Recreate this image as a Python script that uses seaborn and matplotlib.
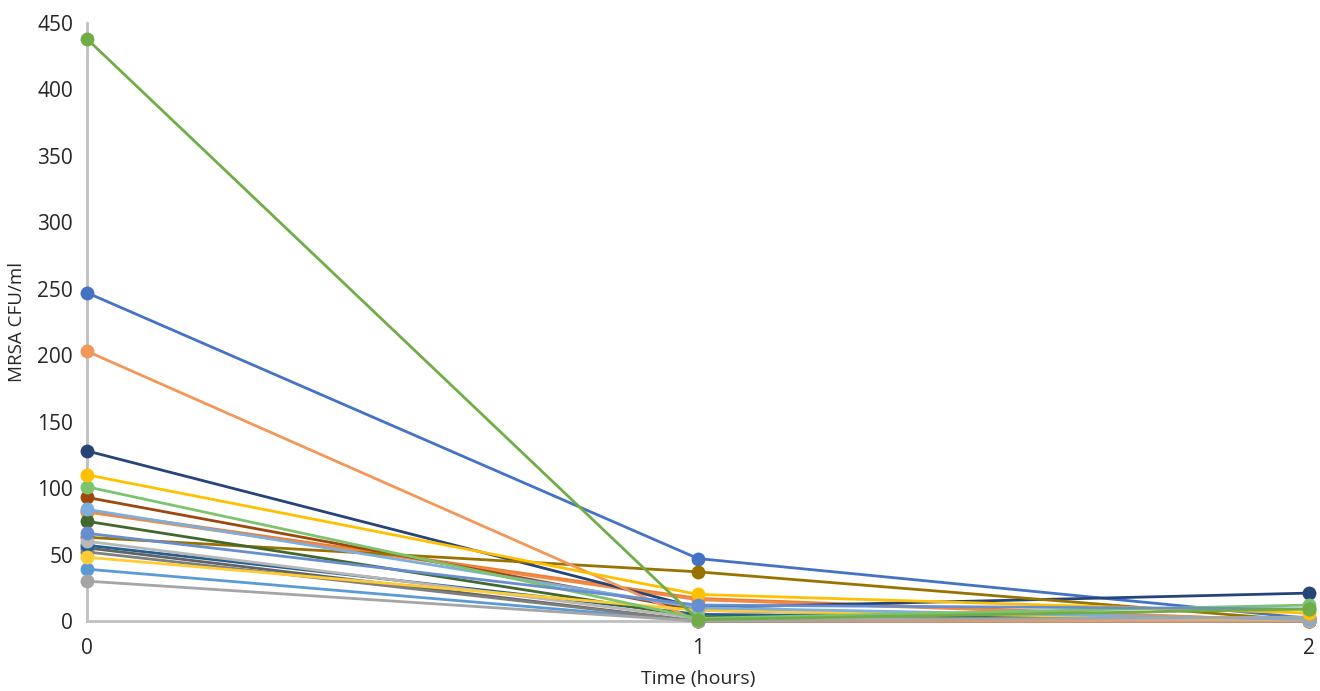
import pandas as pd
import numpy as np
import matplotlib
matplotlib.use("Agg")
import matplotlib.pyplot as plt
import seaborn as sns

# ── Data ──────────────────────────────────────────────────────────────────────
times = [0, 1, 2]

samples = ["S01", "S02", "S03", "S04", "S05", "S06", "S07", "S08", "S09", "S10",
           "S11", "S12", "S13", "S14", "S15", "S16", "S17", "S18", "S19", "S20"]

cfu_h0 = [247, 83, 82, 39, 55, 128, 93, 52, 63, 57, 75, 203, 60, 48, 84, 101, 30, 110, 66, 438]
cfu_h1 = [47, 17, 16, 0, 0, 10, 8, 0, 37, 5, 3, 0, 2, 8, 10, 2, 0, 20, 12, 1]
cfu_h2 = [2, 0, 0, 1, 0, 21, 1, 0, 0, 1, 1, 0, 1, 1, 1, 12, 3, 6, 9, 9]

colors = ["#4472C4", "#ED7D31", "#F08A45", "#5B9BD5", "#636363", "#264478",
          "#9E480E", "#7F7F7F", "#997300", "#255E91", "#43682B", "#F1975A",
          "#B7B7B7", "#FFCD33", "#7CAFDD", "#7CC46E", "#A5A5A5", "#FFC000",
          "#698ED0", "#70AD47"]

# ── Long table ────────────────────────────────────────────────────────────────
rows = []
for s, a, b, c in zip(samples, cfu_h0, cfu_h1, cfu_h2):
    for t, v in zip(times, [a, b, c]):
        rows.append({"sample": s, "time": t, "cfu": v})
df = pd.DataFrame(rows)

# ── Plot ──────────────────────────────────────────────────────────────────────
sns.set_style("white")
plt.rcParams["font.family"] = ["Open Sans", "DejaVu Sans"]

fig = plt.figure(figsize=(13.2, 6.91), dpi=100)
ax = fig.add_axes([0.0659, 0.1013, 0.9258, 0.8654])

sns.lineplot(data=df, x="time", y="cfu", hue="sample",
             palette=colors, marker="o", markersize=10, markeredgewidth=0,
             linewidth=2.0, legend=False, sort=False, clip_on=False, ax=ax)

ax.set_xlim(0, 2)
ax.set_ylim(0, 450)
ax.set_xticks(times)
ax.set_yticks(np.arange(0, 451, 50))
ax.tick_params(axis="both", labelsize=15, colors="#BFBFBF", labelcolor="#262626",
               length=6, width=2, direction="out", pad=4)
ax.tick_params(axis="x", pad=6)

for side in ["top", "right"]:
    ax.spines[side].set_visible(False)
for side in ["left", "bottom"]:
    ax.spines[side].set_color("#BFBFBF")
    ax.spines[side].set_linewidth(2)
    ax.spines[side].set_zorder(0)

ax.set_xlabel("Time (hours)", fontsize=14, color="#262626", labelpad=8)
ax.set_ylabel("MRSA CFU/ml", fontsize=13.5, color="#262626", labelpad=8)

fig.savefig("out.png", dpi=100)
